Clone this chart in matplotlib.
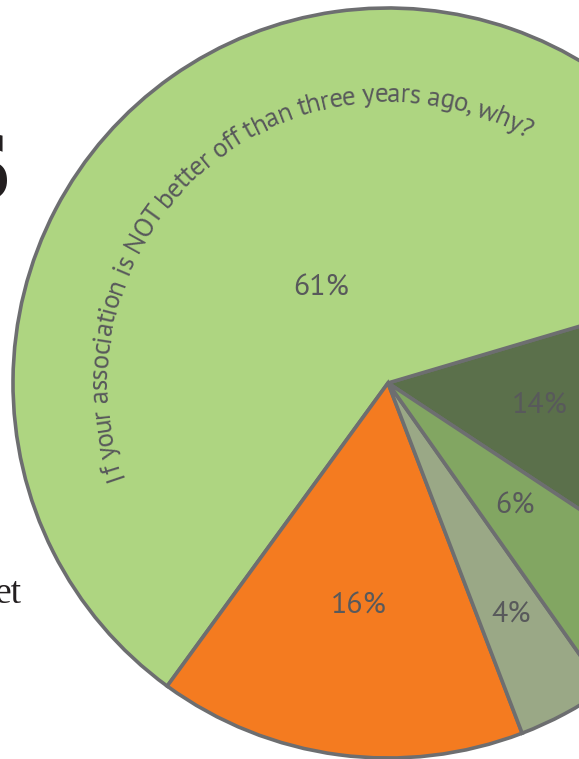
import numpy as np
import matplotlib
matplotlib.use("Agg")
import matplotlib.pyplot as plt
from matplotlib.textpath import TextPath
from matplotlib.font_manager import FontProperties

# ---- data ----
categories = ["Dark", "Main", "Orange", "Gray", "Medium"]
values = [14, 61, 16, 4, 6]
labels = ["14%", "61%", "16%", "4%", "6%"]
title_text = "If your association is NOT better off than three years ago, why?"

# ---- style ----
colors = ["#5b704b", "#aed581", "#f47b20", "#9aa886", "#82a662"]
label_r = [0.41, 0.31, 0.60, 0.70, 0.47]
edge = "#6d6e70"
txt_col = "#58595b"
regular = ["PT Sans", "Source Sans 3", "Open Sans", "DejaVu Sans"]

W, H = 579, 759
fig = plt.figure(figsize=(W / 100, H / 100), dpi=100)
ax = fig.add_axes([0, 0, 1, 1])
cx, cy, R = 388, H - 383, 375

wedges, _ = ax.pie(values, colors=colors, startangle=-33.4, counterclock=True,
                   center=(cx, cy), radius=R, frame=True,
                   wedgeprops=dict(edgecolor=edge, linewidth=2.6))
ax.set_xlim(0, W)
ax.set_ylim(0, H)
ax.set_aspect("equal")
ax.axis("off")

lab_font = FontProperties(family=regular, size=21.5)
for w, lab, rr in zip(wedges, labels, label_r):
    mid = np.deg2rad((w.theta1 + w.theta2) / 2)
    ax.text(cx + rr * R * np.cos(mid), cy + rr * R * np.sin(mid), lab,
            fontproperties=lab_font, color=txt_col, ha="center", va="center")

# ---- curved text ----
arc_font = FontProperties(family=regular, size=19.5)
r_arc = 281
a_start, a_end = 199.5, 60.5
pt2px = 100 / 72.0

def width(s):
    tp = TextPath((0, 0), s.replace(" ", "\u00a0"), prop=arc_font)
    return tp.vertices[:, 0].max() * pt2px

def adv(s):
    return width(s + "|") - width("|")

total = adv(title_text)
span_len = np.deg2rad(a_start - a_end) * r_arc
scale = span_len / total
for i, ch in enumerate(title_text):
    if ch == " ":
        continue
    s0 = adv(title_text[:i])
    s1 = adv(title_text[:i + 1])
    smid = (s0 + s1) / 2 * scale
    ang = a_start - np.rad2deg(smid / r_arc)
    a = np.deg2rad(ang)
    ax.text(cx + r_arc * np.cos(a), cy + r_arc * np.sin(a), ch,
            fontproperties=arc_font, color=txt_col, rotation=ang - 90,
            rotation_mode="anchor", ha="center", va="baseline")

# ---- page fragments at left edge ----
ax.text(12, H - 200, "s", fontsize=88, fontweight="bold", color="#231f20",
        ha="right", va="baseline", family="DejaVu Sans")
ax.text(21, H - 603, "et", fontsize=27, color="#231f20", ha="right",
        va="baseline", family="Liberation Serif")

fig.savefig("out.png", dpi=100)
